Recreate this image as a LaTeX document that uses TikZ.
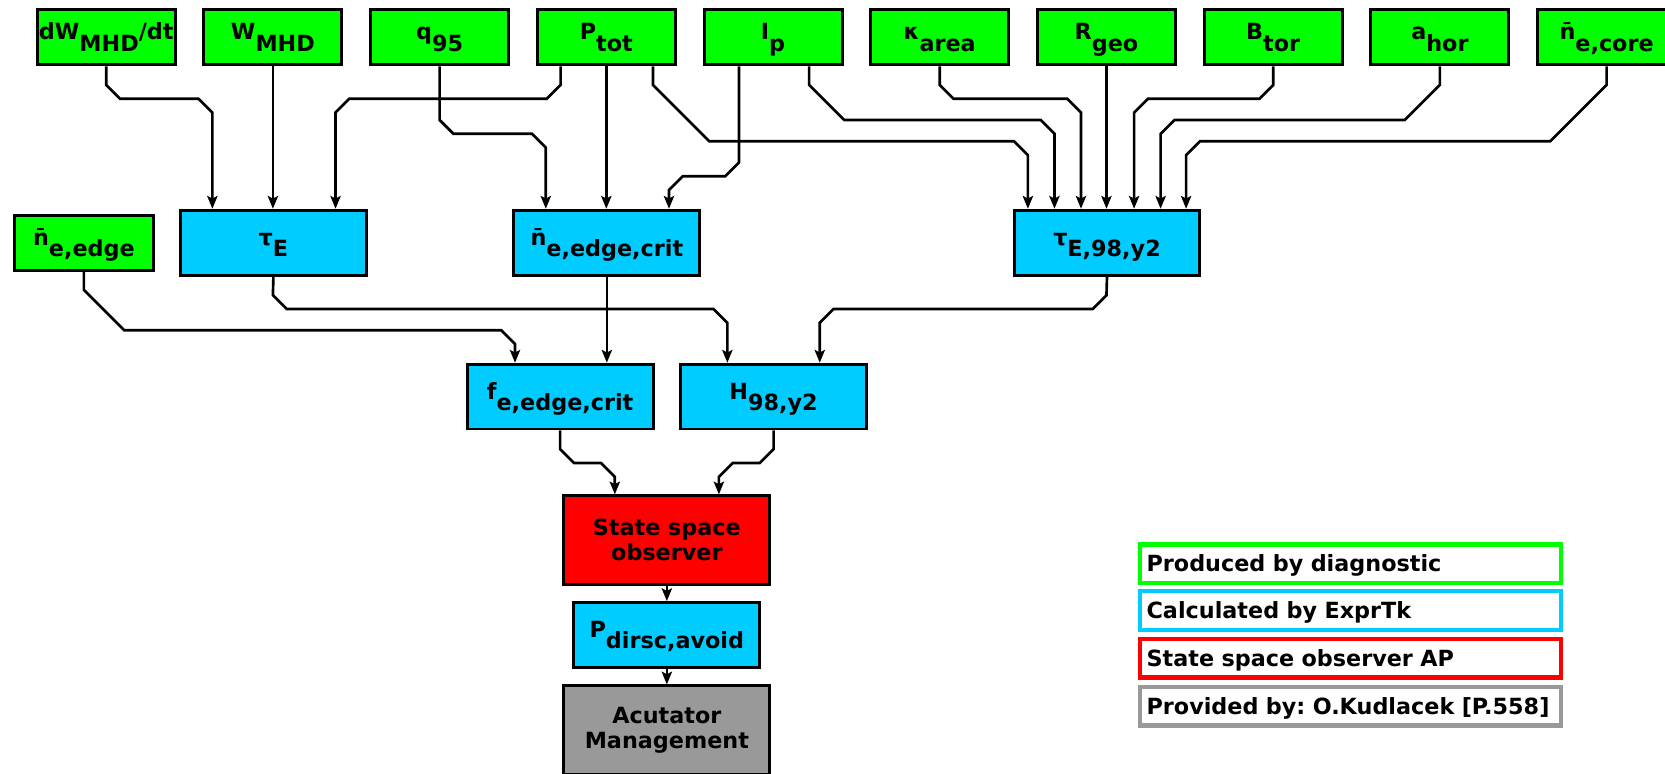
\documentclass[tikz,border=0pt]{standalone}
\usepackage{fontspec}
\setmainfont{DejaVu Sans}
\usetikzlibrary{arrows.meta}
\definecolor{diaggreen}{HTML}{00FF00}
\definecolor{exprcyan}{HTML}{00CCFF}
\definecolor{ssored}{HTML}{FF0000}
\definecolor{actgray}{HTML}{999999}
\newcommand{\lo}[1]{\raisebox{-5.4pt}{#1}}
\frenchspacing
\begin{document}
\begin{tikzpicture}[x=0.5pt, y=-0.5pt, >={Stealth[length=6pt,width=4.8pt,inset=1.2pt]},
    every node/.style={font=\fontsize{10.5}{12}\selectfont\bfseries, inner sep=0pt, align=center},
    varbox/.style={draw, line width=1.4pt, text height=7.7pt, text depth=5.4pt},
    diagbox/.style={varbox, fill=diaggreen, minimum width=65pt, minimum height=26pt},
    exprbox/.style={varbox, fill=exprcyan, minimum width=87.5pt, minimum height=30.5pt},
    bigbox/.style={draw, line width=1.4pt, minimum width=97pt, minimum height=41.5pt},
    keybox/.style={draw=#1, line width=2pt, fill=white, minimum width=198pt, minimum height=18.3pt,
        text width=192pt, align=left, text height=7.6pt, text depth=0pt},
    link/.style={->, line width=1.25pt}]

    \clip (0,0) rectangle (1568,728);

    % measured signals
    \node[diagbox] (dW) at (100,35) {dW\lo{MHD}/dt};
    \node[diagbox] (Wmhd) at (257,35) {W\lo{MHD}};
    \node[diagbox] (q95) at (414,35) {q\lo{95}};
    \node[diagbox] (Ptot) at (571,35) {P\lo{tot}};
    \node[diagbox] (Ip) at (728,35) {I\lo{p}};
    \node[diagbox] (kappa) at (885,35) {κ\lo{area}};
    \node[diagbox] (Rgeo) at (1042,35) {R\lo{geo}};
    \node[diagbox] (Btor) at (1199,35) {B\lo{tor}};
    \node[diagbox] (ahor) at (1356,35) {a\lo{hor}};
    \node[diagbox] (necore) at (1513,35) {n̄\lo{e,core}};
    \node[diagbox, minimum width=65.5pt] (needge) at (79,228.5) {n̄\lo{e,edge}};

    % computed quantities
    \node[exprbox] (tauE) at (257.5,228.5) {τ\lo{E}};
    \node[exprbox] (necrit) at (571.5,228.5) {n̄\lo{e,edge,crit}};
    \node[exprbox] (tau98) at (1042.5,228.5) {τ\lo{E,98,y2}};
    \node[exprbox] (fecrit) at (527.5,373.5) {f\lo{e,edge,crit}};
    \node[exprbox] (H98) at (728.5,373.5) {H\lo{98,y2}};

    \node[bigbox, fill=ssored] (sso) at (628,508.5) {State space\\observer};
    \node[exprbox] (pavoid) at (628,598) {P\lo{dirsc,avoid}};
    \node[bigbox, fill=actgray] (act) at (628,687.5) {Acutator\\Management};

    % into tau_E
    \draw[link] (dW.south) -- (100,80) -- (113,93) -- (187,93) -- (200,106) -- (tauE.north -| 200,0);
    \draw[link] (Wmhd.south) -- (Wmhd.south |- tauE.north);
    \draw[link] (Ptot.south -| 528,0) -- (528,80) -- (515,93) -- (329,93) -- (316,106) -- (tauE.north -| 316,0);
    % into n_e,edge,crit
    \draw[link] (q95.south) -- (414,113) -- (427,126) -- (501,126) -- (514,139) -- (necrit.north -| 514,0);
    \draw[link] (Ptot.south) -- (Ptot.south |- necrit.north);
    \draw[link] (Ip.south -| 696,0) -- (696,153) -- (683,166) -- (643,166) -- (630,179) -- (necrit.north -| 630,0);
    % into tau_E,98,y2
    \draw[link] (Ptot.south -| 615,0) -- (615,80) -- (668,133) -- (955,133) -- (968,146) -- (tau98.north -| 968,0);
    \draw[link] (Ip.south -| 762,0) -- (762,80) -- (795,113) -- (980,113) -- (993,126) -- (tau98.north -| 993,0);
    \draw[link] (kappa.south) -- (885,80) -- (898,93) -- (1005,93) -- (1018,106) -- (tau98.north -| 1018,0);
    \draw[link] (Rgeo.south) -- (Rgeo.south |- tau98.north);
    \draw[link] (Btor.south) -- (1199,80) -- (1186,93) -- (1081,93) -- (1068,106) -- (tau98.north -| 1068,0);
    \draw[link] (ahor.south) -- (1356,80) -- (1323,113) -- (1106,113) -- (1093,126) -- (tau98.north -| 1093,0);
    \draw[link] (necore.south) -- (1513,80) -- (1460,133) -- (1130,133) -- (1117,146) -- (tau98.north -| 1117,0);

    % third row
    \draw[link] (needge.south) -- (79,273) -- (117,311) -- (472,311) -- (485,324) -- (fecrit.north -| 485,0);
    \draw[link] (necrit.south) -- (necrit.south |- fecrit.north);
    \draw[link] (tauE.south) -- (257,278) -- (270,291) -- (672,291) -- (685,304) -- (H98.north -| 685,0);
    \draw[link] (tau98.south) -- (1042,278) -- (1029,291) -- (785,291) -- (772,304) -- (H98.north -| 772,0);

    % observer chain
    \draw[link] (fecrit.south) -- (527.5,423) -- (540.5,436) -- (566,436) -- (579,449) -- (sso.north -| 579,0);
    \draw[link] (H98.south) -- (728.5,423) -- (715.5,436) -- (690,436) -- (677,449) -- (sso.north -| 677,0);
    \draw[link] (sso) -- (pavoid);
    \draw[link] (pavoid) -- (act);

    % legend
    \node[keybox=diaggreen] (k1) at (1271.8,531) {Produced by diagnostic};
    \node[keybox=exprcyan] (k2) at (1271.8,575.2) {Calculated by ExprTk};
    \node[keybox=ssored] (k3) at (1271.8,619.8) {State space observer AP};
    \node[keybox=actgray] (k4) at (1271.8,665) {Provided by: O.Kudlacek [P.558]};
\end{tikzpicture}
\end{document}
